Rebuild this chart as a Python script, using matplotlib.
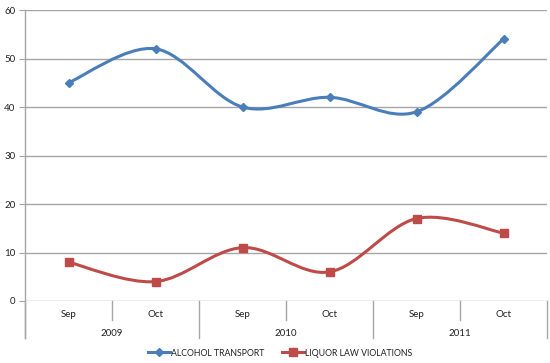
import matplotlib
matplotlib.use("Agg")
import matplotlib.pyplot as plt
from matplotlib.path import Path
from matplotlib.patches import PathPatch
from matplotlib.lines import Line2D
import numpy as np

plt.rcParams['font.family'] = ['Lato', 'DejaVu Sans']

months = ["Sep", "Oct", "Sep", "Oct", "Sep", "Oct"]
years = ["2009", "2010", "2011"]
alcohol = [45, 52, 40, 42, 39, 54]
liquor = [8, 4, 11, 6, 17, 14]

BLUE = "#4A7EBB"
RED = "#BE4B48"
GRID = "#A6A6A6"


def smooth_path(xs, ys):
    # catmull-rom style bezier, like excel's smoothed line
    pts = np.column_stack([xs, ys]).astype(float)
    verts = [pts[0]]
    codes = [Path.MOVETO]
    n = len(pts)
    for i in range(n - 1):
        p0 = pts[i - 1] if i > 0 else pts[i]
        p1 = pts[i]
        p2 = pts[i + 1]
        p3 = pts[i + 2] if i + 2 < n else pts[i + 1]
        c1 = p1 + (p2 - p0) / 6.0
        c2 = p2 - (p3 - p1) / 6.0
        verts += [c1, c2, p2]
        codes += [Path.CURVE4] * 3
    return Path(verts, codes)


fig = plt.figure(figsize=(5.5, 3.63), dpi=100)
ax = fig.add_axes([25 / 550, 1 - 301 / 363, 522 / 550, 291 / 363])

x = np.arange(len(months))
for vals, col, mk, ms in [(alcohol, BLUE, "D", 4.5), (liquor, RED, "s", 5.8)]:
    ax.add_patch(PathPatch(smooth_path(x, vals), fill=False, edgecolor=col, lw=2.2, zorder=3))
    ax.plot(x, vals, ls="none", marker=mk, ms=ms, color=col, zorder=4)

ax.set_xlim(-0.5, len(months) - 0.5)
ax.set_ylim(0, 60)
ax.set_yticks(range(0, 61, 10))
ax.yaxis.grid(True, color=GRID, lw=1)
ax.set_axisbelow(True)
for s in ax.spines.values():
    s.set_visible(False)
ax.set_xticks([])
ax.tick_params(axis="y", length=4, color=GRID, labelsize=7, pad=3, labelcolor="#222222")

trans = ax.get_xaxis_transform()
# left axis line going down through the category area
ax.plot([-0.5, -0.5], [1, -0.127], transform=trans, color=GRID, lw=1, clip_on=False)
for k in range(len(months) + 1):
    bottom = -0.127 if k % 2 == 0 else -0.065
    ax.plot([k - 0.5, k - 0.5], [0, bottom], transform=trans, color=GRID, lw=1, clip_on=False)
for i, m in enumerate(months):
    ax.text(i, -0.045, m, transform=trans, ha="center", va="center", fontsize=7, color="#222222")
for j, yr in enumerate(years):
    ax.text(2 * j + 0.5, -0.11, yr, transform=trans, ha="center", va="center", fontsize=7, color="#222222")

handles = [
    Line2D([], [], color=BLUE, lw=2.2, marker="D", ms=4.5),
    Line2D([], [], color=RED, lw=2.2, marker="s", ms=5.8),
]
fig.legend(handles, ["ALCOHOL TRANSPORT", "LIQUOR LAW VIOLATIONS"], loc="center",
           bbox_to_anchor=(280 / 550, 1 - 353 / 363), ncol=2, frameon=False, fontsize=6.3,
           handlelength=2.5, handletextpad=0.15, columnspacing=2.0, labelcolor="#222222")

fig.savefig("out.png", dpi=100)
